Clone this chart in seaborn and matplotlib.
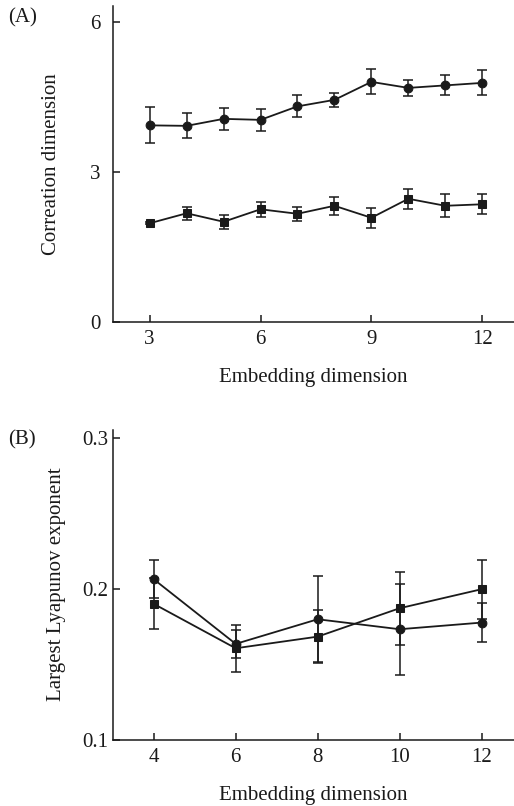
import numpy as np
import pandas as pd
import matplotlib
matplotlib.use('Agg')
import matplotlib.pyplot as plt
import seaborn as sns

# Datos panel (A): dimension de correlacion
emb_a = [3, 4, 5, 6, 7, 8, 9, 10, 11, 12]
circ_a = [3.93, 3.92, 4.06, 4.04, 4.31, 4.44, 4.80, 4.68, 4.73, 4.78]
circ_a_err = [0.36, 0.25, 0.22, 0.22, 0.22, 0.14, 0.25, 0.16, 0.20, 0.25]
sq_a = [1.97, 2.17, 2.00, 2.25, 2.16, 2.32, 2.08, 2.46, 2.32, 2.35]
sq_a_err = [0.02, 0.13, 0.14, 0.15, 0.14, 0.18, 0.20, 0.20, 0.23, 0.20]

# Datos panel (B): exponente de Lyapunov
emb_b = [4, 6, 8, 10, 12]
circ_b = [0.2062, 0.1634, 0.1797, 0.1731, 0.1775]
circ_b_err = [0.0124, 0.0093, 0.0285, 0.0300, 0.0130]
sq_b = [0.1899, 0.1605, 0.1682, 0.1870, 0.1996]
sq_b_err = [0.0168, 0.0157, 0.0174, 0.0242, 0.0195]

sns.set_style('ticks')
plt.rcParams['font.family'] = ['Liberation Serif', 'DejaVu Serif']
plt.rcParams['font.size'] = 14

ink = '#1a1a1a'

fig = plt.figure(figsize=(5.14, 8.06), dpi=100)
ax_a = fig.add_axes([0.2193, 0.6009, 0.7807, 0.3917])
ax_b = fig.add_axes([0.2193, 0.0823, 0.7807, 0.3848])


def panel(ax, x, c, ce, s, se, ypad):
    df = pd.DataFrame({'x': x, 'circ': c, 'sq': s})
    for col, err, mk in [('circ', ce, 'o'), ('sq', se, 's')]:
        ax.errorbar(df['x'], df[col], yerr=err, fmt='none', ecolor=ink,
                    elinewidth=1.1, capsize=3.5, capthick=1.1, zorder=2)
        sns.lineplot(data=df, x='x', y=col, ax=ax, color=ink, marker=mk,
                     markersize=6.3, markeredgecolor=ink, linewidth=1.3, zorder=3)
    sns.despine(ax=ax)
    for sp in ['left', 'bottom']:
        ax.spines[sp].set_linewidth(1.1)
        ax.spines[sp].set_color(ink)
    ax.tick_params(direction='in', length=5, width=1.1, colors=ink,
                   labelsize=15)
    ax.tick_params(axis='x', pad=6)
    ax.tick_params(axis='y', pad=ypad)
    ax.set_xlabel('Embedding dimension', fontsize=15, labelpad=14, color=ink)


panel(ax_a, emb_a, circ_a, circ_a_err, sq_a, sq_a_err, 9)
ax_a.set_xlim(2, 12.86)
ax_a.set_ylim(0, 6.32)
ax_a.set_xticks([3, 6, 9, 12])
ax_a.set_yticks([0, 3, 6])
ax_a.set_ylabel('Correation dimension', fontsize=15, labelpad=21, color=ink)

panel(ax_b, emb_b, circ_b, circ_b_err, sq_b, sq_b_err, 3)
ax_b.set_xlim(3, 12.79)
ax_b.set_ylim(0.1, 0.3053)
ax_b.set_xticks([4, 6, 8, 10, 12])
ax_b.set_yticks([0.1, 0.2, 0.3])
ax_b.set_yticklabels(['0.1', '0.2', '0.3'])
ax_b.set_ylabel('Largest Lyapunov exponent', fontsize=15, labelpad=12, color=ink)

fig.text(0.015, 0.978, '(A)', fontsize=15, color=ink, va='center')
fig.text(0.015, 0.454, '(B)', fontsize=15, color=ink, va='center')

fig.savefig('out.png', dpi=100)
